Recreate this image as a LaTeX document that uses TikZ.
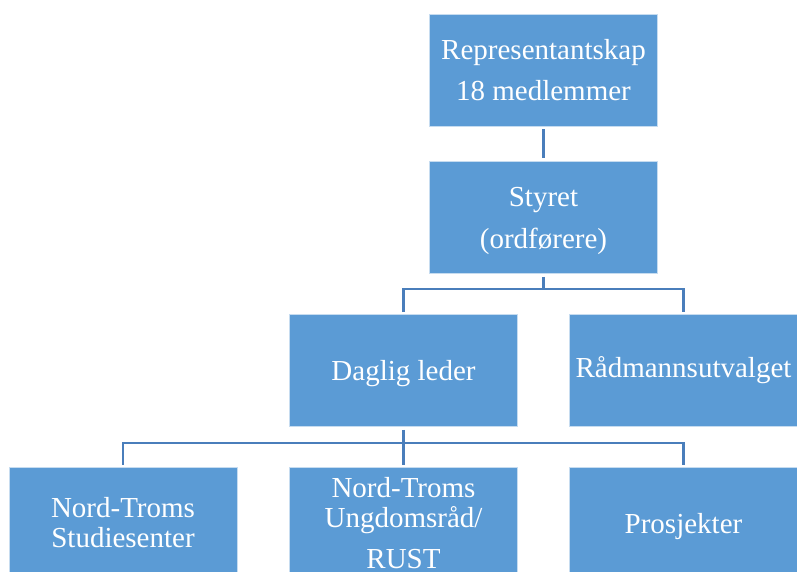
\documentclass[tikz,border=0pt]{standalone}
\usepackage{fontspec}
\setmainfont{Liberation Serif}
\definecolor{boxblue}{HTML}{5B9BD5}
\definecolor{linkblue}{HTML}{4A7EBB}
\begin{document}
\begin{tikzpicture}[x=1pt,y=-1pt,
  orgbox/.style={fill=boxblue, draw=boxblue!35!white, line width=0.8pt,
    minimum width=228pt, minimum height=112pt, inner sep=0pt, text=white,
    align=center, font=\fontsize{29}{30}\selectfont},
  nodepth/.style={text depth=0pt},
  link/.style={draw=linkblue, line width=2.4pt}]
\useasboundingbox (0,0) rectangle (797,572);
\fill[white] (0,0) rectangle (797,572);

\node[orgbox] (rep) at (543.5,70) {Representantskap\\[11pt]18 medlemmer};
\node[orgbox, nodepth] (sty) at (543.5,217.5) {Styret\\[12pt](ordførere)};
\node[orgbox, nodepth] (dag) at (403.5,370.5) {Daglig leder};
\node[orgbox] (rad) at (683.5,370.5) {Rådmannsutvalget};
\node[orgbox] (nts) at (123,523) {Nord-Troms\\Studiesenter};
\node[orgbox] (ung) at (403.5,523) {Nord-Troms\\Ungdomsråd/\\[11pt]RUST};
\node[orgbox, nodepth] (pro) at (683.5,523) {Prosjekter};

\coordinate (b1) at (0,289);
\coordinate (b2) at (0,443);

\draw[link, shorten <=3pt, shorten >=3pt] (rep.south) -- (sty.north);
\draw[link, shorten <=3pt] (sty.south) -- (sty.south |- b1);
\draw[link, shorten <=2pt, shorten >=2pt] (dag.north) -- (dag.north |- b1) -- (rad.north |- b1) -- (rad.north);
\draw[link, shorten <=3pt, shorten >=2pt] (dag.south) -- (ung.north);
\draw[link, shorten <=2pt, shorten >=2pt] (nts.north) -- (nts.north |- b2) -- (pro.north |- b2) -- (pro.north);
\end{tikzpicture}
\end{document}
